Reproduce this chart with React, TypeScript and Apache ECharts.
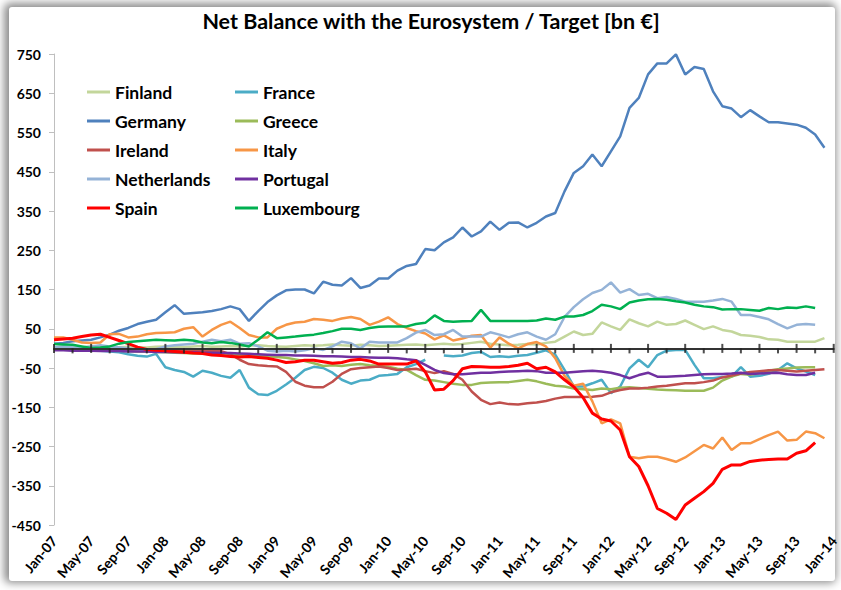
import React, { useEffect, useRef } from "react";
import * as echarts from "echarts";

const monthNames = ["Jan", "Feb", "Mar", "Apr", "May", "Jun", "Jul", "Aug", "Sep", "Oct", "Nov", "Dec"];
const categories: string[] = [];
for (let y = 7; y <= 14; y++) {
  for (let m = 0; m < 12; m++) {
    if (y === 14 && m > 0) break;
    categories.push(`${monthNames[m]}-${String(y).padStart(2, "0")}`);
  }
}

const yTicks = [-450, -350, -250, -150, -50, 50, 150, 250, 350, 450, 550, 650, 750];

const finland = [2, 3, 2, 3, 4, 3, 2, 3, 4, 3, 2, 4, 5, 4, 3, 5, 6, 4, 5, 6, 5, 7, 8, 6, 5, 4, 6, 8, 7, 8, 10, 8, 7, 9, 8, 6, 7, 8, 9, 10, 8, 10, 12, 10, 11, 14, 17, 12, 10, 8, 9, 11, 10, 14, 17, 30, 43, 34, 37, 66, 56, 47, 74, 64, 56, 68, 60, 62, 71, 60, 49, 56, 47, 43, 34, 32, 29, 23, 22, 17, 17, 17, 17, 26];
const france = [0, -2, -3, -5, -4, -6, -8, -10, -15, -19, -21, -14, -48, -55, -60, -72, -57, -62, -70, -75, -55, -100, -117, -119, -108, -92, -75, -55, -47, -50, -62, -80, -90, -82, -80, -70, -68, -65, -48, -40, -29, null, -18, -20, -18, -12, -9, -22, -20, -22, -19, -17, -11, -5, -16, -55, -97, -97, -89, -80, -114, -97, -51, -29, -48, -17, -6, -4, -4, -42, -76, -76, -73, -72, -48, -72, -70, -65, -55, -38, -51, -59, -68];
const germany = [12, 14, 18, 20, 22, 28, 35, 45, 52, 62, 68, 73, 92, 110, 88, 90, 92, 95, 100, 107, 100, 70, 95, 118, 135, 148, 150, 150, 140, 170, 162, 160, 179, 154, 160, 178, 178, 198, 210, 215, 253, 250, 270, 283, 308, 285, 298, 323, 302, 320, 321, 308, 320, 336, 345, 400, 447, 464, 494, 464, 502, 540, 613, 638, 698, 726, 726, 749, 698, 717, 712, 655, 617, 611, 589, 607, 591, 576, 576, 573, 570, 562, 545, 511];
const greece = [-3, -3, -4, -4, -5, -5, -6, -6, -7, -8, -8, -9, -10, -11, -12, -13, -13, -14, -15, -16, -17, -18, -18, -20, -22, -24, -28, -32, -38, -45, -43, -45, -42, -40, -43, -45, -47, -52, -55, -68, -80, -82, -86, -90, -93, -93, -88, -87, -86, -86, -83, -80, -84, -90, -95, -97, -102, -104, -106, -102, -104, -100, -99, -101, -103, -105, -106, -107, -108, -108, -108, -100, -82, -72, -65, -67, -63, -57, -53, -51, -49, -48, -48];
const ireland = [0, -1, -1, -2, -2, -3, -3, -3, -4, -4, -5, -5, -5, -5, -6, -6, -6, -6, -7, -15, -29, -40, -43, -45, -46, -60, -85, -95, -99, -99, -85, -65, -53, -50, -48, -46, -50, -55, -54, -52, -58, -63, -58, -65, -80, -110, -131, -142, -138, -142, -143, -140, -138, -134, -128, -124, -124, -124, -123, -121, -112, -106, -102, -102, -100, -97, -95, -92, -89, -89, -86, -82, -74, -69, -64, -60, -58, -56, -55, -57, -59, -57, -55, -53];
const italy = [28, 28, 22, 15, 14, 15, 36, 37, 28, 30, 36, 39, 40, 41, 50, 54, 30, 47, 60, 68, 52, 34, 28, 28, 50, 60, 66, 68, 75, 73, 70, 76, 80, 75, 60, 68, 79, 62, 52, 44, 38, 23, 33, 20, 25, 32, 34, 2, 28, 12, 0, 11, 16, 5, -25, -70, -95, -90, -135, -191, -181, -191, -276, -280, -276, -276, -282, -289, -278, -262, -246, -255, -227, -259, -242, -242, -231, -221, -212, -235, -233, -212, -216, -229];
const netherlands = [3, 5, 3, 2, 5, 8, 5, 3, 0, -3, -5, -2, 5, 8, 10, 12, 17, 22, 18, 22, 12, 13, 5, -6, -8, -6, -8, -5, 0, -4, 5, 17, 13, 0, 17, 15, 15, 15, 26, 40, 47, 34, 36, 47, 30, 30, 30, 41, 35, 28, 36, 41, 30, 22, 36, 80, 105, 125, 141, 149, 168, 142, 151, 136, 139, 128, 131, 126, 119, 119, 119, 122, 126, 119, 85, 85, 80, 74, 62, 51, 60, 62, 60];
const portugal = [-5, -5, -6, -6, -6, -7, -7, -7, -8, -8, -8, -9, -9, -10, -10, -10, -11, -11, -12, -12, -13, -14, -15, -16, -17, -17, -18, -18, -19, -20, -20, -21, -22, -22, -23, -24, -24, -25, -28, -30, -42, -55, -63, -66, -66, -64, -62, -62, -60, -59, -58, -57, -58, -62, -62, -62, -60, -58, -57, -59, -62, -68, -76, -68, -62, -72, -72, -71, -70, -68, -66, -65, -65, -64, -62, -65, -64, -63, -62, -66, -68, -68, -62];
const spain = [22, 24, 26, 30, 34, 36, 28, 20, 12, 3, -3, -5, -6, -8, -10, -12, -13, -17, -18, -21, -22, -21, -23, -25, -30, -36, -34, -30, -30, -34, -38, -36, -30, -28, -32, -40, -40, -40, -40, -32, -60, -106, -104, -82, -52, -46, -47, -48, -48, -46, -43, -38, -52, -48, -60, -80, -98, -125, -165, -180, -185, -208, -276, -301, -350, -408, -420, -436, -399, -382, -365, -344, -308, -297, -297, -288, -285, -283, -282, -282, -267, -261, -240];
const luxembourg = [11, 10, 9, 5, 1, 2, 5, 12, 16, 18, 20, 22, 21, 20, 22, 20, 15, 13, 16, 14, 10, 5, 22, 41, 26, 28, 30, 33, 35, 39, 44, 50, 50, 47, 52, 55, 56, 56, 56, 62, 65, 84, 70, 68, 69, 70, 98, 70, 70, 70, 70, 70, 71, 76, 73, 81, 81, 85, 95, 111, 107, 100, 117, 122, 125, 126, 124, 120, 117, 111, 107, 105, 99, 100, 100, 98, 96, 103, 100, 104, 103, 107, 103];

const seriesList = [
  { name: "Finland", data: finland, color: "#C3D69B", width: 2.5 },
  { name: "France", data: france, color: "#4BACC6", width: 2.5 },
  { name: "Germany", data: germany, color: "#4F81BD", width: 2.5 },
  { name: "Greece", data: greece, color: "#9BBB59", width: 2.5 },
  { name: "Ireland", data: ireland, color: "#C0504D", width: 2.5 },
  { name: "Italy", data: italy, color: "#F79646", width: 2.5 },
  { name: "Netherlands", data: netherlands, color: "#95B3D7", width: 2.5 },
  { name: "Portugal", data: portugal, color: "#7030A0", width: 2.5 },
  { name: "Spain", data: spain, color: "#FF0000", width: 3 },
  { name: "Luxembourg", data: luxembourg, color: "#00B050", width: 2.5 },
];

const leftLegend = ["Finland", "Germany", "Ireland", "Netherlands", "Spain"];
const rightLegend = ["France", "Greece", "Italy", "Portugal", "Luxembourg"];

// tick marks on the zero axis: major every 4 months, minor every 2 months
const majorTickCats = categories.filter((_, i) => i % 4 === 0);
const minorTickCats = categories.filter((_, i) => i % 2 === 0 && i % 4 !== 0);

const FONT = "Lato, 'Open Sans', sans-serif";

export default function App() {
  const ref = useRef<HTMLDivElement>(null);

  useEffect(() => {
    document.body.style.margin = "0";
    if (!ref.current) return;
    const chart = echarts.init(ref.current, null, { renderer: "svg" });
    const legendBase = {
      orient: "vertical",
      top: 83,
      itemWidth: 23,
      itemHeight: 3,
      itemGap: 11,
      icon: "rect",
      padding: 0,
      selectedMode: false,
      textStyle: { fontFamily: FONT, fontWeight: "bold", fontSize: 17.5, color: "#000", lineHeight: 18 },
    };
    const lineSeries = seriesList.map((s) => ({
      name: s.name,
      type: "line",
      data: s.data,
      xAxisIndex: 0,
      yAxisIndex: 0,
      symbol: "none",
      showSymbol: false,
      connectNulls: false,
      lineStyle: { color: s.color, width: s.width },
      itemStyle: { color: s.color },
      emphasis: { disabled: true },
    }));
    const tickSeries = [
      {
        type: "scatter",
        name: "majorTicks",
        data: majorTickCats.map((c) => [c, 0]),
        symbol: "rect",
        symbolSize: [2, 9],
        itemStyle: { color: "#222" },
        silent: true,
        z: 20,
      },
      {
        type: "scatter",
        name: "minorTicks",
        data: minorTickCats.map((c) => [c, 0]),
        symbol: "rect",
        symbolSize: [2, 5],
        symbolOffset: [0, 2.5],
        itemStyle: { color: "#222" },
        silent: true,
        z: 20,
      },
    ];
    chart.setOption({
      animation: false,
      backgroundColor: "transparent",
      title: {
        text: "Net Balance with the Eurosystem / Target [bn €]",
        left: 431,
        top: 10,
        padding: 0,
        textAlign: "center",
        textStyle: { fontFamily: FONT, fontWeight: "bold", fontSize: 21.5, color: "#000" },
      },
      legend: [
        { ...legendBase, left: 87, data: leftLegend },
        { ...legendBase, left: 235, data: rightLegend },
      ],
      grid: { left: 54, right: 7, top: 54, bottom: 65, containLabel: false },
      xAxis: [
        {
          type: "category",
          data: categories,
          boundaryGap: false,
          position: "bottom",
          axisLine: { show: false, onZero: false },
          axisTick: { show: false },
          axisLabel: {
            interval: 3,
            rotate: 50,
            margin: 13,
            fontFamily: FONT,
            fontWeight: "bold",
            fontSize: 14,
            color: "#000",
          },
          splitLine: { show: false },
        },
        {
          type: "category",
          data: categories,
          boundaryGap: false,
          position: "top",
          z: 10,
          axisLine: { show: true, onZero: true, lineStyle: { color: "#333", width: 2 } },
          axisTick: { show: false },
          axisLabel: { show: false },
          splitLine: { show: false },
        },
      ],
      yAxis: {
        type: "value",
        min: -450,
        max: 750,
        interval: 50,
        axisLine: { show: true, lineStyle: { color: "#BFBFBF", width: 1 } },
        axisTick: { show: true, customValues: yTicks, length: 5, lineStyle: { color: "#BFBFBF" } },
        axisLabel: {
          customValues: yTicks,
          margin: 13,
          fontFamily: FONT,
          fontWeight: "bold",
          fontSize: 14,
          color: "#000",
        },
        splitLine: { show: false },
      },
      series: [...lineSeries, ...tickSeries],
    });
    return () => chart.dispose();
  }, []);

  return (
    <div style={{ position: "relative", width: 841, height: 590, background: "#fff", overflow: "hidden" }}>
      <div
        style={{
          position: "absolute",
          left: 9,
          top: 7,
          width: 826,
          height: 574,
          background: "#fff",
          borderRadius: 3,
          boxShadow: "-2px -1px 9px 3px rgba(0,0,0,0.45)",
        }}
      />
      <div ref={ref} style={{ position: "absolute", left: 0, top: 0, width: 841, height: 590 }} />
    </div>
  );
}
